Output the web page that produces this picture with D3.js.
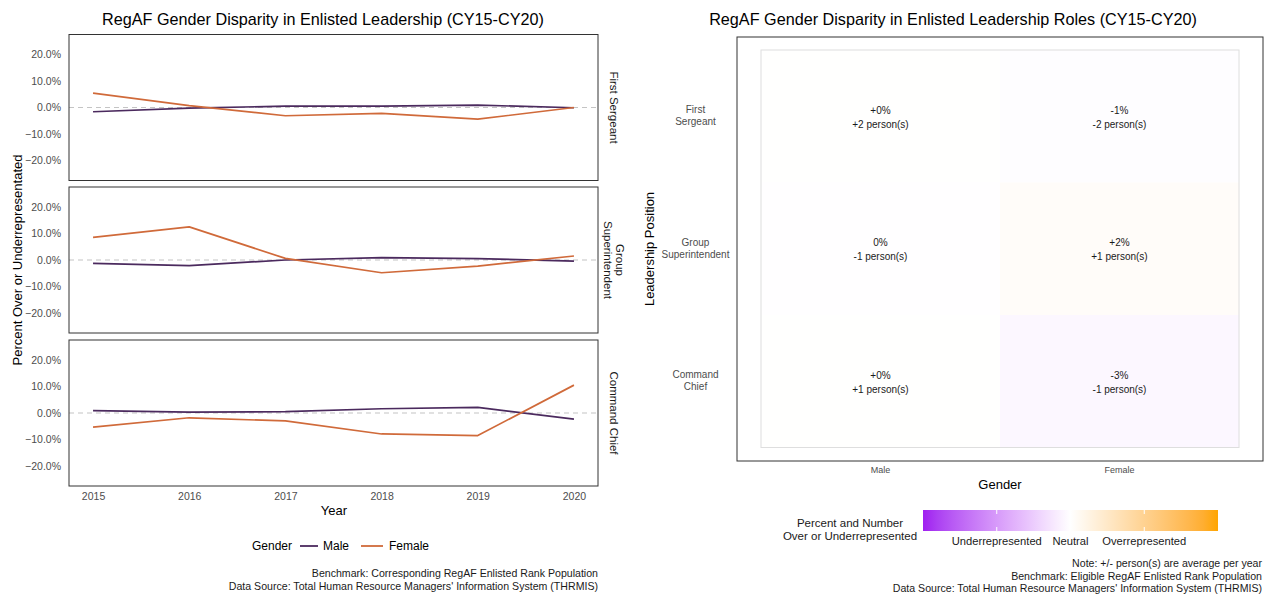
<!DOCTYPE html>
<html><head><meta charset="utf-8">
<script src="https://cdn.jsdelivr.net/npm/d3@7"></script>
<style>body{margin:0;background:#fff;} text{font-family:"Liberation Sans",Arial,sans-serif;}</style>
</head><body>
<svg id="c" width="1267" height="595"></svg>
<script>
// ---------- DATA ----------
const years = [2015, 2016, 2017, 2018, 2019, 2020];
const positions = ["First Sergeant", "Group Superintendent", "Command Chief"];
const genders = ["Male", "Female"];
const yTicks = [-20, -10, 0, 10, 20];
// percent over/under represented per year
const maleFirstSergeant    = [-1.6, -0.2, 0.5, 0.5, 0.9, -0.1];
const femaleFirstSergeant  = [5.4, 0.7, -3.1, -2.2, -4.4, 0.0];
const maleGroupSupt        = [-1.3, -2.1, 0.0, 0.9, 0.5, -0.4];
const femaleGroupSupt      = [8.5, 12.5, 0.6, -4.8, -2.3, 1.5];
const maleCommandChief     = [0.9, 0.3, 0.5, 1.6, 2.1, -2.3];
const femaleCommandChief   = [-5.3, -1.8, -3.0, -7.9, -8.5, 10.5];
// heatmap summary (rows follow positions, columns follow genders)
const heatPercent = [[0.2, -0.6], [-0.2, 2.3], [0.4, -3.1]];
const heatPersons = [[2, -2], [-1, 1], [1, -1]];
const legendLabels = ["Underrepresented", "Neutral", "Overrepresented"];

const seriesByPosition = [
  [maleFirstSergeant, femaleFirstSergeant],
  [maleGroupSupt, femaleGroupSupt],
  [maleCommandChief, femaleCommandChief]
];
const stripLabels = [["First Sergeant"], ["Group", "Superintendent"], ["Command Chief"]];
const rowLabels = [["First", "Sergeant"], ["Group", "Superintendent"], ["Command", "Chief"]];
const lineColors = {Male: "#4b2a5e", Female: "#d06a3a"};

const svg = d3.select("#c");

// ---------- LEFT: faceted lines ----------
const x = d3.scaleLinear().domain([2014.75, 2020.25]).range([69, 598]);
const panelTops = [34.5, 187, 340];
const panelH = 146;

svg.append("text").attr("x", 323).attr("y", 25).attr("text-anchor", "middle")
  .attr("font-size", 16.2).attr("fill", "#000")
  .text("RegAF Gender Disparity in Enlisted Leadership (CY15-CY20)");

panelTops.forEach((top, i) => {
  const y = d3.scaleLinear().domain([-27.5, 27.5]).range([top + panelH, top]);
  const g = svg.append("g");
  g.append("line").attr("x1", 69).attr("x2", 598).attr("y1", y(0)).attr("y2", y(0))
    .attr("stroke", "#c4c4c4").attr("stroke-width", 1.2).attr("stroke-dasharray", "5,4");
  const ax = g.append("g").attr("transform", `translate(69,0)`)
    .call(d3.axisLeft(y).tickValues(yTicks).tickSize(0).tickPadding(8)
      .tickFormat(d => d3.format(".1f")(d) + "%"));
  ax.select(".domain").remove();
  ax.selectAll("text").attr("font-size", 10.5).attr("fill", "#4d4d4d")
    .style("font-family", "Liberation Sans, Arial, sans-serif");
  const line = d3.line().x((d, k) => x(years[k])).y(d => y(d));
  genders.forEach((gname, gi) => {
    g.append("path").datum(seriesByPosition[i][gi]).attr("d", line)
      .attr("fill", "none").attr("stroke", lineColors[gname]).attr("stroke-width", 1.7)
      .attr("stroke-linejoin", "round");
  });
  g.append("rect").attr("x", 69).attr("y", top).attr("width", 529).attr("height", panelH)
    .attr("fill", "none").attr("stroke", "#333").attr("stroke-width", 1);
  const lines = stripLabels[i];
  const cy = top + panelH / 2;
  const st = g.append("text").attr("transform", `translate(614,${cy}) rotate(90)`)
    .attr("text-anchor", "middle").attr("font-size", 11.5).attr("fill", "#1a1a1a");
  lines.forEach((t, k) => {
    st.append("tspan").attr("x", 0)
      .attr("y", (k - (lines.length - 1) / 2) * 12.5 + 4).text(t);
  });
});

const xa = svg.append("g").attr("transform", `translate(0,${panelTops[2] + panelH})`)
  .call(d3.axisBottom(x).tickValues(years).tickSize(0).tickPadding(7).tickFormat(d3.format("d")));
xa.select(".domain").remove();
xa.selectAll("text").attr("font-size", 10.5).attr("fill", "#4d4d4d")
  .style("font-family", "Liberation Sans, Arial, sans-serif");

svg.append("text").attr("x", 334).attr("y", 515).attr("text-anchor", "middle")
  .attr("font-size", 13).text("Year");
svg.append("text").attr("transform", "translate(22,260) rotate(-90)").attr("text-anchor", "middle")
  .attr("font-size", 13).text("Percent Over or Underrepresentated");

// legend
svg.append("text").attr("x", 252).attr("y", 550).attr("font-size", 12).text("Gender");
svg.append("line").attr("x1", 300).attr("x2", 318).attr("y1", 546).attr("y2", 546)
  .attr("stroke", lineColors.Male).attr("stroke-width", 1.8);
svg.append("text").attr("x", 323).attr("y", 550).attr("font-size", 12).text("Male");
svg.append("line").attr("x1", 361).attr("x2", 383).attr("y1", 546).attr("y2", 546)
  .attr("stroke", lineColors.Female).attr("stroke-width", 1.8);
svg.append("text").attr("x", 389).attr("y", 550).attr("font-size", 12).text("Female");

["Benchmark: Corresponding RegAF Enlisted Rank Population",
 "Data Source: Total Human Resource Managers' Information System (THRMIS)"].forEach((t, k) => {
  svg.append("text").attr("x", 598).attr("y", 577 + k * 12.5).attr("text-anchor", "end")
    .attr("font-size", 10.6).attr("fill", "#1a1a1a").text(t);
});

// ---------- RIGHT: heatmap ----------
svg.append("text").attr("x", 953).attr("y", 25).attr("text-anchor", "middle")
  .attr("font-size", 16.2).text("RegAF Gender Disparity in Enlisted Leadership Roles (CY15-CY20)");

const px = d3.scaleBand().domain(genders).range([761, 1239]);
const py = d3.scaleBand().domain(positions).range([50, 447.5]);
const color = d3.scaleLinear().domain([-80, 0, 80]).range(["#a020f0", "#ffffff", "#ffa500"])
  .interpolate(d3.interpolateLab).clamp(true);

svg.append("rect").attr("x", 737).attr("y", 37).attr("width", 526).attr("height", 424)
  .attr("fill", "#fff").attr("stroke", "#333").attr("stroke-width", 1);

const cells = [];
positions.forEach((p, r) => genders.forEach((gn, c) => cells.push({p, gn, v: heatPercent[r][c], n: heatPersons[r][c]})));

svg.append("g").selectAll("rect").data(cells).join("rect")
  .attr("x", d => px(d.gn)).attr("y", d => py(d.p))
  .attr("width", px.bandwidth()).attr("height", py.bandwidth())
  .attr("fill", d => color(d.v));
svg.append("rect").attr("x", 761).attr("y", 50).attr("width", 478).attr("height", 397.5)
  .attr("fill", "none").attr("stroke", "#dedede").attr("stroke-width", 1);

function fmtPct(v) {
  const r = Math.round(v);
  if (v > 0) return "+" + r + "%";
  if (r === 0) return "0%";
  return r + "%";
}
function fmtN(n) { return (n > 0 ? "+" : "") + n + " person(s)"; }

const lbl = svg.append("g").selectAll("text").data(cells).join("text")
  .attr("text-anchor", "middle").attr("font-size", 10).attr("fill", "#1a1a1a");
lbl.append("tspan").attr("x", d => px(d.gn) + px.bandwidth() / 2)
  .attr("y", d => py(d.p) + py.bandwidth() / 2 - 2.5).text(d => fmtPct(d.v));
lbl.append("tspan").attr("x", d => px(d.gn) + px.bandwidth() / 2)
  .attr("y", d => py(d.p) + py.bandwidth() / 2 + 11.5).text(d => fmtN(d.n));

positions.forEach((p, r) => {
  const cy = py(p) + py.bandwidth() / 2;
  const t = svg.append("text").attr("text-anchor", "middle").attr("font-size", 10).attr("fill", "#4d4d4d");
  rowLabels[r].forEach((s, k) => t.append("tspan").attr("x", 695.5).attr("y", cy - 3 + k * 12).text(s));
});
genders.forEach(gn => {
  svg.append("text").attr("x", px(gn) + px.bandwidth() / 2).attr("y", 473)
    .attr("text-anchor", "middle").attr("font-size", 9).attr("fill", "#4d4d4d").text(gn);
});
svg.append("text").attr("x", 1000).attr("y", 489).attr("text-anchor", "middle")
  .attr("font-size", 13).text("Gender");
svg.append("text").attr("transform", "translate(654,249) rotate(-90)").attr("text-anchor", "middle")
  .attr("font-size", 13).text("Leadership Position");

// colour bar legend
const legendColor = d3.scaleLinear().domain([-60, 0, 60]).range(["#a020f0", "#ffffff", "#ffa500"])
  .interpolate(d3.interpolateLab);
const lx = d3.scaleLinear().domain([-60, 60]).range([923, 1218]);
const defs = svg.append("defs");
const grad = defs.append("linearGradient").attr("id", "cb").attr("x1", "0%").attr("x2", "100%");
d3.range(0, 21).forEach(i => {
  const v = -60 + i * 6;
  grad.append("stop").attr("offset", (i * 5) + "%").attr("stop-color", legendColor(v));
});
svg.append("rect").attr("x", 923).attr("y", 510).attr("width", 295).attr("height", 21).attr("fill", "url(#cb)");
const legendBreaks = [-30, 0, 30];
legendBreaks.forEach((b, k) => {
  svg.append("line").attr("x1", lx(b)).attr("x2", lx(b)).attr("y1", 510).attr("y2", 514)
    .attr("stroke", "#fff").attr("stroke-width", 1);
  svg.append("line").attr("x1", lx(b)).attr("x2", lx(b)).attr("y1", 527).attr("y2", 531)
    .attr("stroke", "#fff").attr("stroke-width", 1);
  svg.append("text").attr("x", lx(b)).attr("y", 545).attr("text-anchor", "middle")
    .attr("font-size", 11.2).attr("fill", "#1a1a1a").text(legendLabels[k]);
});
const lt = svg.append("text").attr("text-anchor", "middle").attr("font-size", 11.5).attr("fill", "#1a1a1a");
lt.append("tspan").attr("x", 850).attr("y", 527).text("Percent and Number");
lt.append("tspan").attr("x", 850).attr("y", 540).text("Over or Underrepresented");

["Note: +/- person(s) are average per year",
 "Benchmark: Eligible RegAF Enlisted Rank Population",
 "Data Source: Total Human Resource Managers' Information System (THRMIS)"].forEach((t, k) => {
  svg.append("text").attr("x", 1262).attr("y", 567 + k * 12.5).attr("text-anchor", "end")
    .attr("font-size", 10.6).attr("fill", "#1a1a1a").text(t);
});
</script>
</body></html>
